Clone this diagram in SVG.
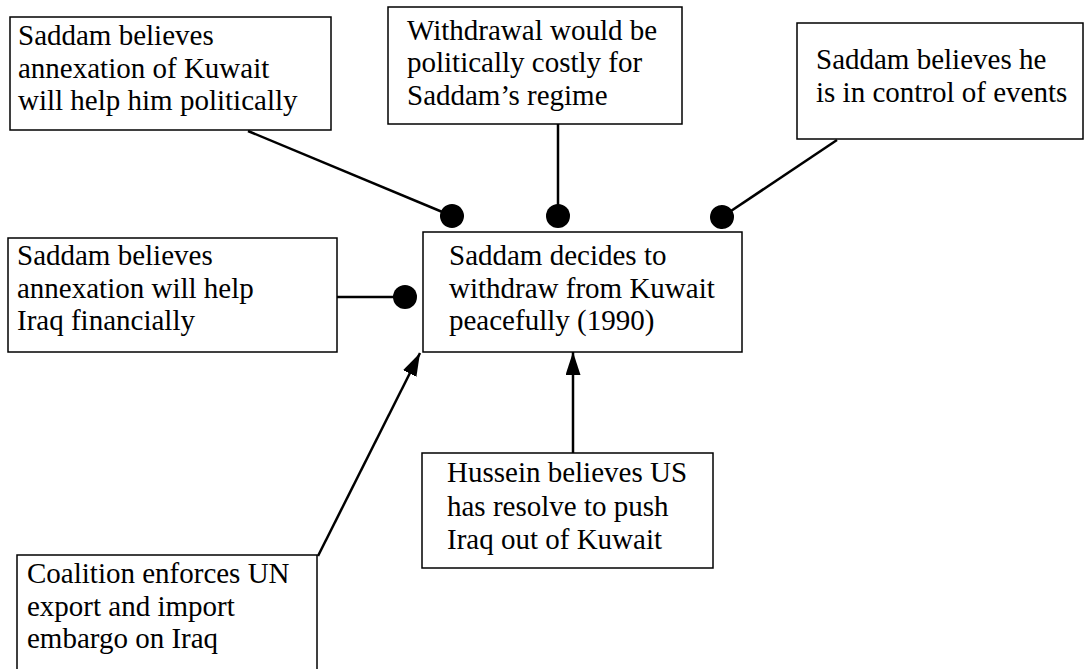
<svg xmlns="http://www.w3.org/2000/svg" width="1092" height="669" viewBox="0 0 1092 669">
<style>
  .box { fill: #ffffff; stroke: #000000; stroke-width: 1.5; }
  .lbl { font-family: "Liberation Serif", "Times New Roman", serif; font-size: 29px; fill: #000000; }
  .conn { stroke: #000000; stroke-width: 2.5; fill: none; }
</style>
<defs>
  <marker id="dot" markerUnits="userSpaceOnUse" markerWidth="26" markerHeight="26" refX="13" refY="13" orient="auto">
    <circle cx="13" cy="13" r="12" fill="#000000"/>
  </marker>
  <marker id="arrow" markerUnits="userSpaceOnUse" markerWidth="24" markerHeight="16" refX="23" refY="7.5" orient="auto">
    <path d="M0,0 L23,7.5 L0,15 Z" fill="#000000"/>
  </marker>
</defs>
<rect width="1092" height="669" fill="#ffffff"/>

<g id="connectors">
  <line class="conn" x1="248" y1="131" x2="452" y2="216" marker-end="url(#dot)"/>
  <line class="conn" x1="558" y1="124" x2="558" y2="216" stroke-width="3" marker-end="url(#dot)"/>
  <line class="conn" x1="837" y1="140" x2="722" y2="217" marker-end="url(#dot)"/>
  <line class="conn" x1="337" y1="297" x2="405" y2="297" stroke-width="3" marker-end="url(#dot)"/>
  <line class="conn" x1="573" y1="453" x2="573" y2="352" stroke-width="3" marker-end="url(#arrow)"/>
  <line class="conn" x1="318" y1="556" x2="420" y2="353" marker-end="url(#arrow)"/>
</g>

<g id="n1">
  <rect class="box" x="10" y="17" width="321" height="113"/>
  <text class="lbl" x="18" y="45">Saddam believes</text>
  <text class="lbl" x="18" y="78">annexation of Kuwait</text>
  <text class="lbl" x="18" y="110">will help him politically</text>
</g>

<g id="n2">
  <rect class="box" x="388" y="7" width="294" height="117"/>
  <text class="lbl" x="407" y="40">Withdrawal would be</text>
  <text class="lbl" x="407" y="72">politically costly for</text>
  <text class="lbl" x="407" y="105">Saddam’s regime</text>
</g>

<g id="n3">
  <rect class="box" x="797" y="23" width="286" height="116"/>
  <text class="lbl" x="816" y="69">Saddam believes he</text>
  <text class="lbl" x="816" y="102">is in control of events</text>
</g>

<g id="n4">
  <rect class="box" x="8" y="238" width="329" height="114"/>
  <text class="lbl" x="17" y="265">Saddam believes</text>
  <text class="lbl" x="17" y="298">annexation will help</text>
  <text class="lbl" x="17" y="330">Iraq financially</text>
</g>

<g id="main">
  <rect class="box" x="423" y="232" width="319" height="120"/>
  <text class="lbl" x="449" y="265">Saddam decides to</text>
  <text class="lbl" x="449" y="298">withdraw from Kuwait</text>
  <text class="lbl" x="449" y="330">peacefully (1990)</text>
</g>

<g id="n5">
  <rect class="box" x="422" y="453" width="291" height="115"/>
  <text class="lbl" x="447" y="482">Hussein believes US</text>
  <text class="lbl" x="447" y="516">has resolve to push</text>
  <text class="lbl" x="447" y="549">Iraq out of Kuwait</text>
</g>

<g id="n6">
  <rect class="box" x="17" y="555" width="300" height="130"/>
  <text class="lbl" x="27" y="583">Coalition enforces UN</text>
  <text class="lbl" x="27" y="616">export and import</text>
  <text class="lbl" x="27" y="648">embargo on Iraq</text>
</g>
</svg>
